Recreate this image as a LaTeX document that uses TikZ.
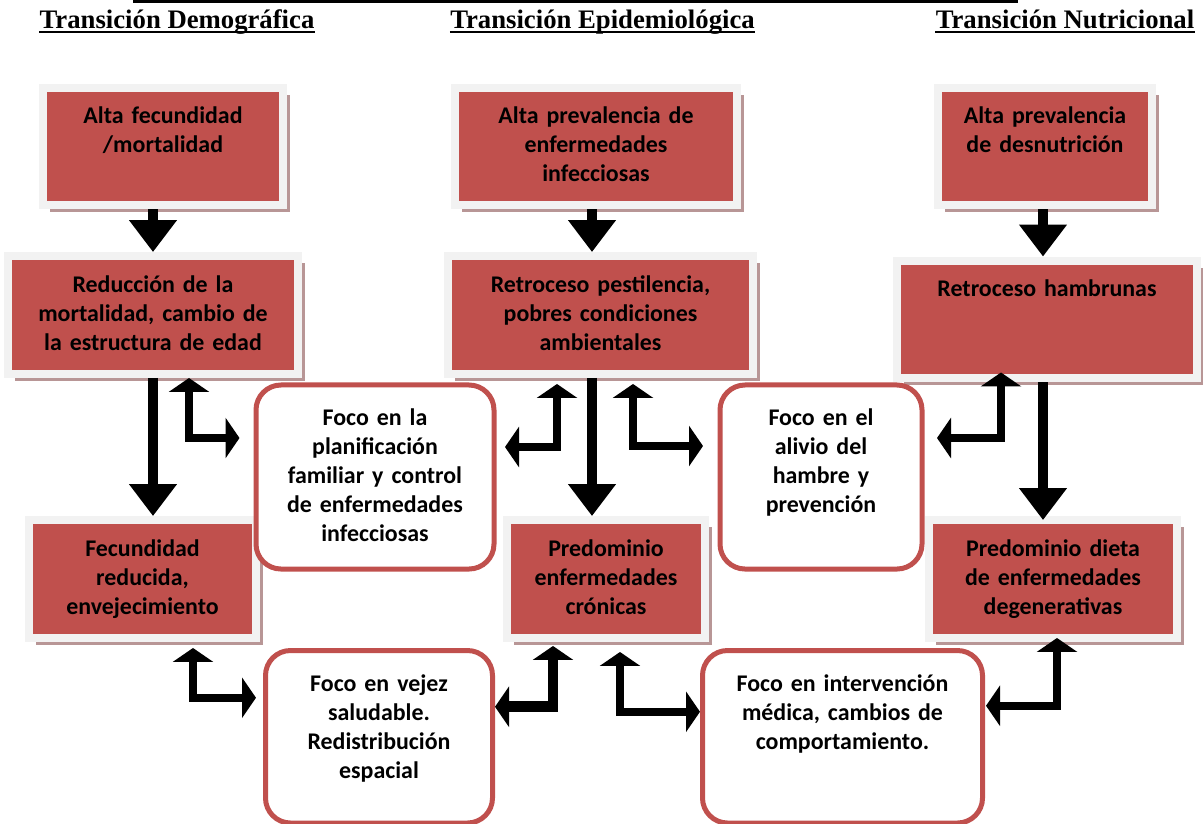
\documentclass[tikz,border=0pt]{standalone}
\usepackage{fontspec}
\setmainfont{Liberation Serif}
\newfontfamily\calibri{Carlito}
\usetikzlibrary{calc, positioning, shadows, arrows.meta}
\definecolor{boxred}{RGB}{192,80,77}
\definecolor{framegray}{RGB}{242,242,242}
\definecolor{shadowrose}{RGB}{184,150,150}

\begin{document}
\begin{tikzpicture}[x=0.25mm, y=-0.25mm,
stage/.style={rectangle, fill=boxred, draw=framegray, line width=2mm,
 inner sep=0pt, align=center, text height=25.6pt, text depth=58.3pt,
 font=\calibri\bfseries\fontsize{17pt}{20.7pt}\selectfont,
 drop shadow={shadow xshift=1.75mm, shadow yshift=-1.75mm, fill=shadowrose, opacity=1}},
focus/.style={rectangle, rounded corners=6.25mm, fill=white, draw=boxred, line width=1.25mm,
 inner sep=0pt, align=center, text height=28.8pt,
 font=\calibri\bfseries\fontsize{17pt}{20.7pt}\selectfont},
heading/.style={anchor=base, inner sep=0pt, font=\bfseries\fontsize{19pt}{23pt}\selectfont},
flow/.style={line width=2.6mm, -{Triangle[length=8mm, width=11.5mm]}},
link/.style={line width=2mm, line join=miter,
 {Triangle[length=3.5mm, width=10mm]}-{Triangle[length=3.5mm, width=10mm]}}]

 \useasboundingbox (0,0) rectangle (1203,823);

 % rest of the cut-off caption
 \draw[line width=0.8mm] (133,1) -- (1018,1);

 \node[heading] (hDem) at (177,28) {Transición Demográfica};
 \node[heading] (hEpi) at (602.5,28) {Transición Epidemiológica};
 \node[heading] (hNut) at (1065,28) {Transición Nutricional};
 \foreach \H in {hDem,hEpi,hNut} {
 \draw[line width=0.6mm] ($(\H.base west)+(0,4)$) -- ($(\H.base east)+(0,4)$);
 }

 \node[stage, text width=60mm] (a1) at (163,146.5) {Alta fecundidad\\/mortalidad};
 \node[stage, text width=70.5mm] (b1) at (596,146.5) {Alta prevalencia de\\enfermedades\\infecciosas};
 \node[stage, text width=53.5mm] (c1) at (1045,146.5) {Alta prevalencia\\de desnutrición};

 \node[stage, text width=72.5mm] (a2) at (153,315) {Reducción de la\\mortalidad, cambio de\\la estructura de edad};
 \node[stage, text width=76.25mm] (b2) at (600.5,315) {Retroceso pestilencia,\\pobres condiciones\\ambientales};
 \node[stage, text width=75mm] (c2) at (1047,319.5) {Retroceso hambrunas};

 \node[stage, text width=56.75mm] (a3) at (142.5,579) {Fecundidad\\reducida,\\envejecimiento};
 \node[stage, text width=49.5mm] (b3) at (606,579) {Predominio\\enfermedades\\crónicas};
 \node[stage, text width=62mm] (c3) at (1053,579) {Predominio dieta\\de enfermedades\\degenerativas};

 \node[focus, text width=59.5mm, text depth=102.1pt] (w1) at (375,477)
 {Foco en la\\planificación\\familiar y control\\de enfermedades\\infecciosas};
 \node[focus, text width=50.5mm, text depth=102.1pt] (w2) at (821,477)
 {Foco en el\\alivio del\\hambre y\\prevención};
 \node[focus, text width=56.75mm, text depth=93.9pt] (w3) at (379,736.75)
 {Foco en vejez\\saludable.\\Redistribución\\espacial};
 \node[focus, text width=70mm, text depth=93.9pt] (w4) at (842.5,736.75)
 {Foco en intervención\\médica, cambios de\\comportamiento.};

 \coordinate (colA) at (153,0);
 \coordinate (colB) at (592,0);
 \coordinate (colC) at (1043,0);

 \draw[flow] (a1.south -| colA) -- (a2.north -| colA);
 \draw[flow] (a2.south -| colA) -- (a3.north -| colA);
 \draw[flow] (b1.south -| colB) -- (b2.north -| colB);
 \draw[flow] (b2.south -| colB) -- (b3.north -| colB);
 \draw[flow] (c1.south -| colC) -- (c2.north -| colC);
 \draw[flow] (c2.south -| colC) -- ($(c3.north -| colC)+(0,4)$);

 \draw[link] ($(a2.south)+(36,0)$) |- ($(w1.west)+(-14,-39)$);
 \draw[link] ($(b2.south)+(-43.5,6)$) |- ($(w1.east)+(8.5,-30)$);
 \draw[link] ($(b2.south)+(32.5,6)$) |- ($(w2.west)+(-14.5,-31)$);
 \draw[link] ($(c2.south)+(-46,-10)$) |- ($(w2.east)+(12.5,-39)$);
 \draw[link] ($(a3.south)+(50.5,6)$) |- ($(w3.west)+(-7,-39)$);
 \draw[link, line width=2.7mm] ($(b3.south)+(-53,4)$) |- ($(w3.east)+(0,-30)$);
 \draw[link] ($(b3.south)+(14,10)$) |- ($(w4.west)+(0,-25)$);
 \draw[link] ($(c3.south)+(4,-4)$) |- ($(w4.east)+(1,-31)$);

\end{tikzpicture}
\end{document}
